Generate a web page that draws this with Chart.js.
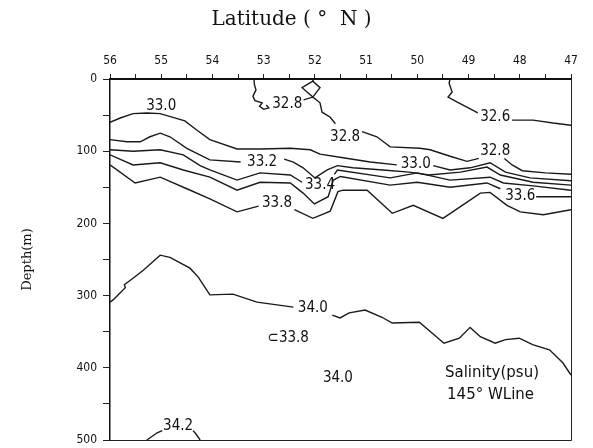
<!DOCTYPE html>
<html><head><meta charset="utf-8">
<script src="https://cdn.jsdelivr.net/npm/chart.js@4/dist/chart.umd.min.js"></script>
<style>html,body{margin:0;padding:0;background:#fff}</style>
</head><body>
<canvas id="c" width="593" height="448"></canvas>
<script>
// ---- axis ticks ----
const latTicks = [56, 55, 54, 53, 52, 51, 50, 49, 48, 47];
const depthTicks = [0, 100, 200, 300, 400, 500];

// ---- contour lines: [latitude (°N), depth (m)], null = break for a label ----
const c326 = [[49.36,0],[49.38,6],[49.32,18],[49.40,25],[49.22,32],[48.92,43],[48.82,47],null,
  [48.15,57],[47.74,57],[47.35,61],[47.00,64]];
const c328 = [[53.19,0],[53.18,8],[53.15,15],[53.21,24],[53.17,30],[53.03,33],[53.08,38],[53.00,42],[52.90,40],[52.95,36],null,
  [52.22,29],[52.04,25],[52.25,12],[52.04,3],[51.90,12],[52.04,25],[51.90,33],[51.86,46],[51.70,53],[51.60,62],null,
  [51.08,73],[50.79,80],[50.53,94],[49.95,96],[49.75,98],[49.36,107],[49.03,114],[48.80,110],null,
  [48.30,110],[48.15,119],[47.95,127],[47.50,130],[47.00,132]];
const c328top = [[52.03,0],[52.04,3]];
const c330 = [[56.00,60],[55.80,54],[55.55,48],[55.28,47],[55.02,48],[54.54,58],[54.30,71],[54.05,84],[53.52,97],[53.07,97],
  [52.48,96],[52.09,98],[51.90,104],[51.45,109],[50.92,115],[50.40,119],null,
  [49.69,120],[49.36,126],[48.97,123],[48.58,116],[48.28,129],[47.80,137],[47.00,141]];
const c332 = [[56.00,84],[55.67,87],[55.41,87],[55.22,80],[55.02,75],[54.83,80],[54.50,96],[54.05,112],[53.45,115],null,
  [52.60,111],[52.42,115],[52.23,123],[52.00,137],[51.76,126],[51.56,120],[51.26,123],[50.67,126],[50.16,129],
  [49.77,133],[49.16,129],[48.64,122],[48.38,133],[47.74,143],[47.00,147]];
const c334 = [[56.00,98],[55.55,100],[55.02,98],[54.57,105],[54.24,120],[54.05,126],[53.52,140],[53.07,130],[52.48,133],[52.25,143],null,
  [51.62,132],[51.56,126],[50.53,137],[50.00,130],[49.36,140],[48.58,136],[48.32,144],[47.74,148],[47.00,154]];
const c336 = [[56.00,105],[55.55,119],[55.02,116],[54.57,126],[54.05,136],[53.52,154],[53.07,143],[52.48,144],[52.23,158],[52.01,173],
  [51.74,163],[51.64,140],[51.50,135],[50.53,147],[50.00,143],[49.36,150],[48.64,144],[48.38,152],null,
  [47.68,163],[47.40,163],[47.00,163]];
const c338 = [[56.00,119],[55.51,144],[55.02,136],[54.50,152],[54.05,166],[53.52,184],[53.10,176],null,
  [52.40,181],[52.04,193],[51.70,183],[51.55,156],[51.45,154],[50.98,154],[50.49,186],[50.08,175],[49.50,193],
  [48.77,158],[48.58,157],[48.25,175],[47.99,184],[47.54,188],[47.00,181]];
const c340 = [[56.00,309],[55.94,306],[55.80,296],[55.70,289],[55.72,285],[55.55,276],[55.35,265],[55.02,244],[54.83,247],
  [54.44,262],[54.28,274],[54.05,299],[53.60,298],[53.13,309],[52.42,316],null,
  [51.66,327],[51.51,331],[51.33,324],[51.02,320],[50.69,330],[50.49,338],[49.96,337],[49.48,366],[49.18,359],
  [48.97,344],[48.77,357],[48.48,366],[48.28,361],[48.01,359],[47.75,368],[47.42,375],[47.16,393],[47.00,410]];
const c342 = [[55.28,500],[55.08,490],[54.98,487],null,[54.38,487],[54.34,490],[54.24,500]];

// ---- contour labels ----
const labelText  = ['33.0','32.8','32.8','32.6','32.8','33.0','33.2','33.4','33.6','33.8','34.0','\u228233.8','34.0','34.2'];
const labelLat   = [55.00, 52.54, 51.41, 48.48, 48.48, 50.03, 53.03, 51.90, 47.99, 52.74, 52.04, 52.52, 51.55, 54.67];
const labelDepth = [37, 35, 80, 53, 100, 118, 115, 147, 162, 172, 317, 359, 414, 481];

// ---- caption ----
const captionText  = ['Salinity(psu)', '145\u00B0 WLine'];
const captionLat   = [49.46, 49.42];
const captionDepth = [407, 438];

const contours = [c326, c328, c328top, c330, c332, c334, c336, c338, c340, c342];
const toXY = arr => arr.map(p => p === null ? {x: null, y: null} : {x: p[0], y: p[1]});

const labelFont = "15px 'DejaVu Sans Condensed', 'DejaVu Sans', sans-serif";

const textPlugin = {
  id: 'contourText',
  afterDatasetsDraw(chart) {
    const {ctx, scales: {x, y}, chartArea: a} = chart;
    ctx.save();
    // right & bottom frame
    ctx.strokeStyle = '#222'; ctx.lineWidth = 1;
    ctx.beginPath();
    ctx.moveTo(a.right + 0.5, a.top); ctx.lineTo(a.right + 0.5, a.bottom + 0.5);
    ctx.lineTo(a.left, a.bottom + 0.5);
    ctx.stroke();
    ctx.fillStyle = '#111';
    ctx.font = labelFont;
    ctx.textAlign = 'center'; ctx.textBaseline = 'middle';
    labelText.forEach((t, i) => {
      ctx.fillText(t, x.getPixelForValue(labelLat[i]), y.getPixelForValue(labelDepth[i]));
    });
    ctx.font = "15px 'DejaVu Sans', sans-serif";
    ctx.textAlign = 'left';
    captionText.forEach((t, i) => {
      ctx.fillText(t, x.getPixelForValue(captionLat[i]), y.getPixelForValue(captionDepth[i]));
    });
    ctx.restore();
  }
};

const tickFont = {family: "'DejaVu Sans Condensed', 'DejaVu Sans', sans-serif", size: 12};

new Chart(document.getElementById('c'), {
  type: 'scatter',
  data: {
    datasets: contours.map(c => ({
      data: toXY(c), showLine: true, spanGaps: false, pointRadius: 0, pointHoverRadius: 0,
      borderColor: '#1a1a1a', borderWidth: 1.4, tension: 0, fill: false
    }))
  },
  options: {
    responsive: false, animation: false, devicePixelRatio: 1,
    layout: {padding: {left: 12, right: 22, top: 0, bottom: 8}},
    plugins: {
      legend: {display: false}, tooltip: {enabled: false},
      title: {display: true, text: 'Latitude ( \u00B0  N )', color: '#111',
        font: {family: "'DejaVu Serif', 'Liberation Serif', serif", size: 20, weight: 'normal', lineHeight: 1.2},
        padding: {top: 8, bottom: 3}}
    },
    scales: {
      x: {
        type: 'linear', position: 'top', min: 47, max: 56, reverse: true,
        afterFit: s => { s.height = 44; },
        ticks: {stepSize: 0.5, autoSkip: false, maxRotation: 0, padding: 6, color: '#111', font: tickFont,
          callback: v => latTicks.includes(v) ? String(v) : ''},
        grid: {drawOnChartArea: false, drawTicks: true, tickLength: 5, color: '#222'},
        border: {display: true, color: '#111', width: 2}
      },
      y: {
        type: 'linear', position: 'left', min: 0, max: 500, reverse: true,
        afterFit: s => { s.width = 98; s.paddingTop = 0; s.paddingBottom = 0; },
        ticks: {stepSize: 50, autoSkip: false, padding: 6, color: '#111', font: tickFont,
          callback: v => depthTicks.includes(v) ? String(v) : ''},
        grid: {drawOnChartArea: false, drawTicks: true, tickLength: 7, color: '#222'},
        border: {display: true, color: '#111', width: 1.5},
        title: {display: true, text: 'Depth(m)', color: '#111',
          font: {family: "'DejaVu Serif', 'Liberation Serif', serif", size: 13},
          padding: {top: 8, bottom: 0}}
      }
    }
  },
  plugins: [textPlugin]
});
</script>
</body></html>
